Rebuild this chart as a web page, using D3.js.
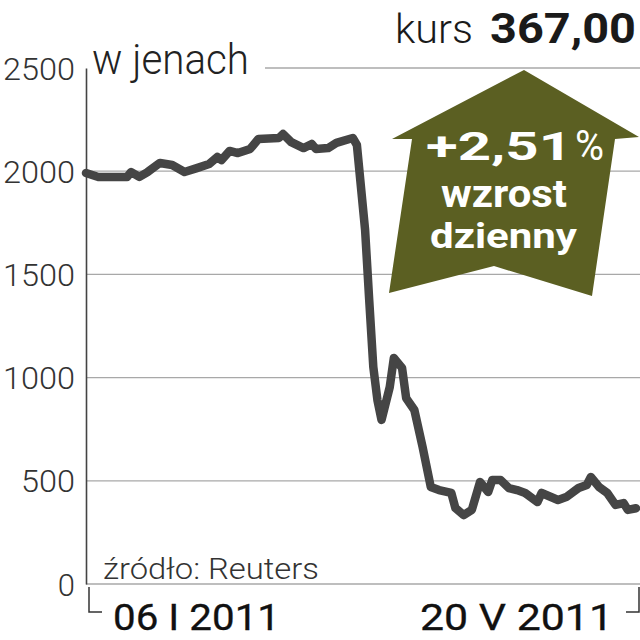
<!DOCTYPE html>
<html>
<head>
<meta charset="utf-8">
<script src="https://cdn.jsdelivr.net/npm/d3@7"></script>
<style>
  body { margin: 0; background: #fff; }
  svg { display: block; }
</style>
</head>
<body>
<div id="wrapper"></div>
<script>
// kurs w jenach, 06 I 2011 - 20 V 2011
const dates = [
  "2011-01-06","2011-01-09","2011-01-16","2011-01-17","2011-01-19","2011-01-21",
  "2011-01-24","2011-01-27","2011-01-30","2011-02-02","2011-02-05","2011-02-07",
  "2011-02-08","2011-02-10","2011-02-12","2011-02-15","2011-02-17","2011-02-22",
  "2011-02-23","2011-02-25","2011-02-28","2011-03-02","2011-03-03","2011-03-06",
  "2011-03-08","2011-03-12","2011-03-13","2011-03-15","2011-03-16","2011-03-17",
  "2011-03-18","2011-03-19","2011-03-21","2011-03-22","2011-03-24","2011-03-25",
  "2011-03-27","2011-03-29","2011-03-31","2011-04-02","2011-04-05","2011-04-06",
  "2011-04-08","2011-04-10","2011-04-12","2011-04-14","2011-04-15","2011-04-17",
  "2011-04-19","2011-04-21","2011-04-23","2011-04-26","2011-04-27","2011-05-01",
  "2011-05-03","2011-05-06","2011-05-08","2011-05-09","2011-05-11","2011-05-13",
  "2011-05-15","2011-05-17","2011-05-18","2011-05-20"
]
const prices = [
  1991,1972,1972,1996,1972,1996,
  2040,2030,1996,2015,2035,2069,
  2054,2098,2088,2108,2156,2161,
  2180,2141,2112,2132,2108,2112,
  2137,2161,2127,1715,1376,1051,
  891,795,954,1095,1047,901,
  843,664,470,455,441,368,
  334,359,494,446,504,504,
  465,455,441,397,441,407,
  421,465,480,518,470,441,
  383,392,359,367
]
const yTicks = [0, 500, 1000, 1500, 2000, 2500]
const xLabels = ["06 I 2011", "20 V 2011"]
const unitLabel = "w jenach"
const priceLabel = "kurs"
const priceValue = "367,00"
const changeValue = "+2,51"
const changeLines = ["wzrost", "dzienny"]
const sourceLabel = "źródło: Reuters"

function drawChart() {
  const parseDate = d3.timeParse("%Y-%m-%d")
  const dataset = dates.map((d, i) => ({date: parseDate(d), price: prices[i]}))
  const xAccessor = d => d.date
  const yAccessor = d => d.price

  let dimensions = {
    width: 640,
    height: 640,
    margin: {top: 68, right: 4, bottom: 56, left: 86},
  }
  dimensions.boundedWidth = dimensions.width - dimensions.margin.left - dimensions.margin.right
  dimensions.boundedHeight = dimensions.height - dimensions.margin.top - dimensions.margin.bottom

  const wrapper = d3.select("#wrapper").append("svg")
      .attr("width", dimensions.width)
      .attr("height", dimensions.height)

  const bounds = wrapper.append("g")
      .attr("transform", `translate(${dimensions.margin.left},${dimensions.margin.top})`)

  // scales
  const xScale = d3.scaleTime()
      .domain([parseDate("2011-01-06"), parseDate("2011-05-20")])
      .range([0, 550])

  const yScale = d3.scaleLinear()
      .domain([0, 2500])
      .range([dimensions.boundedHeight, 0])

  // grid
  const fullW = dimensions.width - dimensions.margin.left
  bounds.selectAll(".grid")
      .data(yTicks).enter().append("line")
        .attr("class", "grid")
        .attr("x1", d => d == 2500 ? 179 : 0)
        .attr("x2", fullW)
        .attr("y1", d => yScale(d))
        .attr("y2", d => yScale(d))
        .attr("stroke", "#a8a8a8")
        .attr("stroke-width", 1.3)

  // y axis
  const yAxisGenerator = d3.axisLeft()
      .scale(yScale)
      .tickValues(yTicks)
      .tickFormat(d3.format("d"))
      .tickSize(0)
      .tickPadding(11)
  const yAxis = bounds.append("g").call(yAxisGenerator)
  yAxis.select(".domain")
      .attr("stroke", "#444")
      .attr("stroke-width", 1.6)
  yAxis.selectAll("text")
      .attr("font-family", "Roboto, 'Liberation Sans', sans-serif")
      .attr("font-weight", 300)
      .attr("font-size", 31)
      .attr("fill", "#333")
      .attr("dy", 11)
      .attr("textLength", d => d == 0 ? null : (d < 1000 ? 54 : 72))
      .attr("lengthAdjust", "spacingAndGlyphs")

  // arrow
  const arrow = [[524, 70], [639, 137], [615, 139], [592, 296], [494, 266],
                 [389, 293], [412, 139], [392, 139]]
  wrapper.append("polygon")
      .attr("points", arrow.map(p => p.join(",")).join(" "))
      .attr("fill", "#5b5f22")

  // line
  const lineGenerator = d3.line()
      .x(d => xScale(xAccessor(d)))
      .y(d => yScale(yAccessor(d)))
  bounds.append("path")
      .attr("d", lineGenerator(dataset))
      .attr("fill", "none")
      .attr("stroke", "#454545")
      .attr("stroke-width", 8.5)
      .attr("stroke-linejoin", "round")
      .attr("stroke-linecap", "round")

  // x brackets and labels
  const bottomY = dimensions.height - dimensions.margin.bottom
  wrapper.append("path")
      .attr("d", `M89,${bottomY + 3}V${bottomY + 28}H102`)
      .attr("fill", "none").attr("stroke", "#333").attr("stroke-width", 1.5)
  wrapper.append("path")
      .attr("d", `M639,${bottomY + 3}V${bottomY + 28}H626`)
      .attr("fill", "none").attr("stroke", "#333").attr("stroke-width", 1.5)

  const fontFam = "Roboto, 'Liberation Sans', sans-serif"
  wrapper.selectAll(".xlabel")
      .data(xLabels).enter().append("text")
        .attr("class", "xlabel")
        .attr("x", (d, i) => i == 0 ? 113 : 420)
        .attr("y", bottomY + 46)
        .attr("font-family", fontFam)
        .attr("font-weight", 400)
        .attr("font-size", 37)
        .attr("fill", "#111")
        .attr("stroke", "#111")
        .attr("stroke-width", 0.3)
        .attr("textLength", (d, i) => i == 0 ? 167 : 193)
        .attr("lengthAdjust", "spacingAndGlyphs")
        .text(d => d)

  wrapper.append("text")
      .attr("x", 103).attr("y", 579)
      .attr("font-family", fontFam).attr("font-weight", 300)
      .attr("font-size", 29).attr("fill", "#333")
      .attr("textLength", 216).attr("lengthAdjust", "spacingAndGlyphs")
      .text(sourceLabel)

  // unit label
  wrapper.append("text")
      .attr("x", 92).attr("y", 74)
      .attr("font-family", fontFam).attr("font-weight", 300)
      .attr("font-size", 42).attr("fill", "#222")
      .attr("textLength", 157).attr("lengthAdjust", "spacingAndGlyphs")
      .text(unitLabel)

  // title
  wrapper.append("text")
      .attr("x", 395).attr("y", 43)
      .attr("font-family", fontFam).attr("font-weight", 300)
      .attr("font-size", 41).attr("fill", "#1a1a1a")
      .attr("textLength", 78).attr("lengthAdjust", "spacingAndGlyphs")
      .text(priceLabel)
  wrapper.append("text")
      .attr("x", 490).attr("y", 43)
      .attr("font-family", fontFam).attr("font-weight", 700)
      .attr("font-size", 43).attr("fill", "#1a1a1a")
      .attr("textLength", 146).attr("lengthAdjust", "spacingAndGlyphs")
      .text(priceValue)

  // arrow texts
  wrapper.append("text")
      .attr("x", 426).attr("y", 160)
      .attr("font-family", fontFam).attr("font-weight", 700)
      .attr("font-size", 39).attr("fill", "#fff")
      .attr("textLength", 146).attr("lengthAdjust", "spacingAndGlyphs")
      .text(changeValue)
  wrapper.append("text")
      .attr("x", 575).attr("y", 160)
      .attr("font-family", fontFam).attr("font-weight", 400)
      .attr("font-size", 42).attr("fill", "#fff")
      .attr("textLength", 29).attr("lengthAdjust", "spacingAndGlyphs")
      .text("%")
  wrapper.selectAll(".change")
      .data(changeLines).enter().append("text")
        .attr("class", "change")
        .attr("x", (d, i) => i == 0 ? 441 : 430)
        .attr("y", (d, i) => i == 0 ? 207 : 248)
        .attr("font-family", fontFam).attr("font-weight", 700)
        .attr("font-size", (d, i) => i == 0 ? 38 : 35)
        .attr("fill", "#fff")
        .attr("textLength", (d, i) => i == 0 ? 126 : 147)
        .attr("lengthAdjust", "spacingAndGlyphs")
        .text(d => d)
}
drawChart()
</script>
</body>
</html>
